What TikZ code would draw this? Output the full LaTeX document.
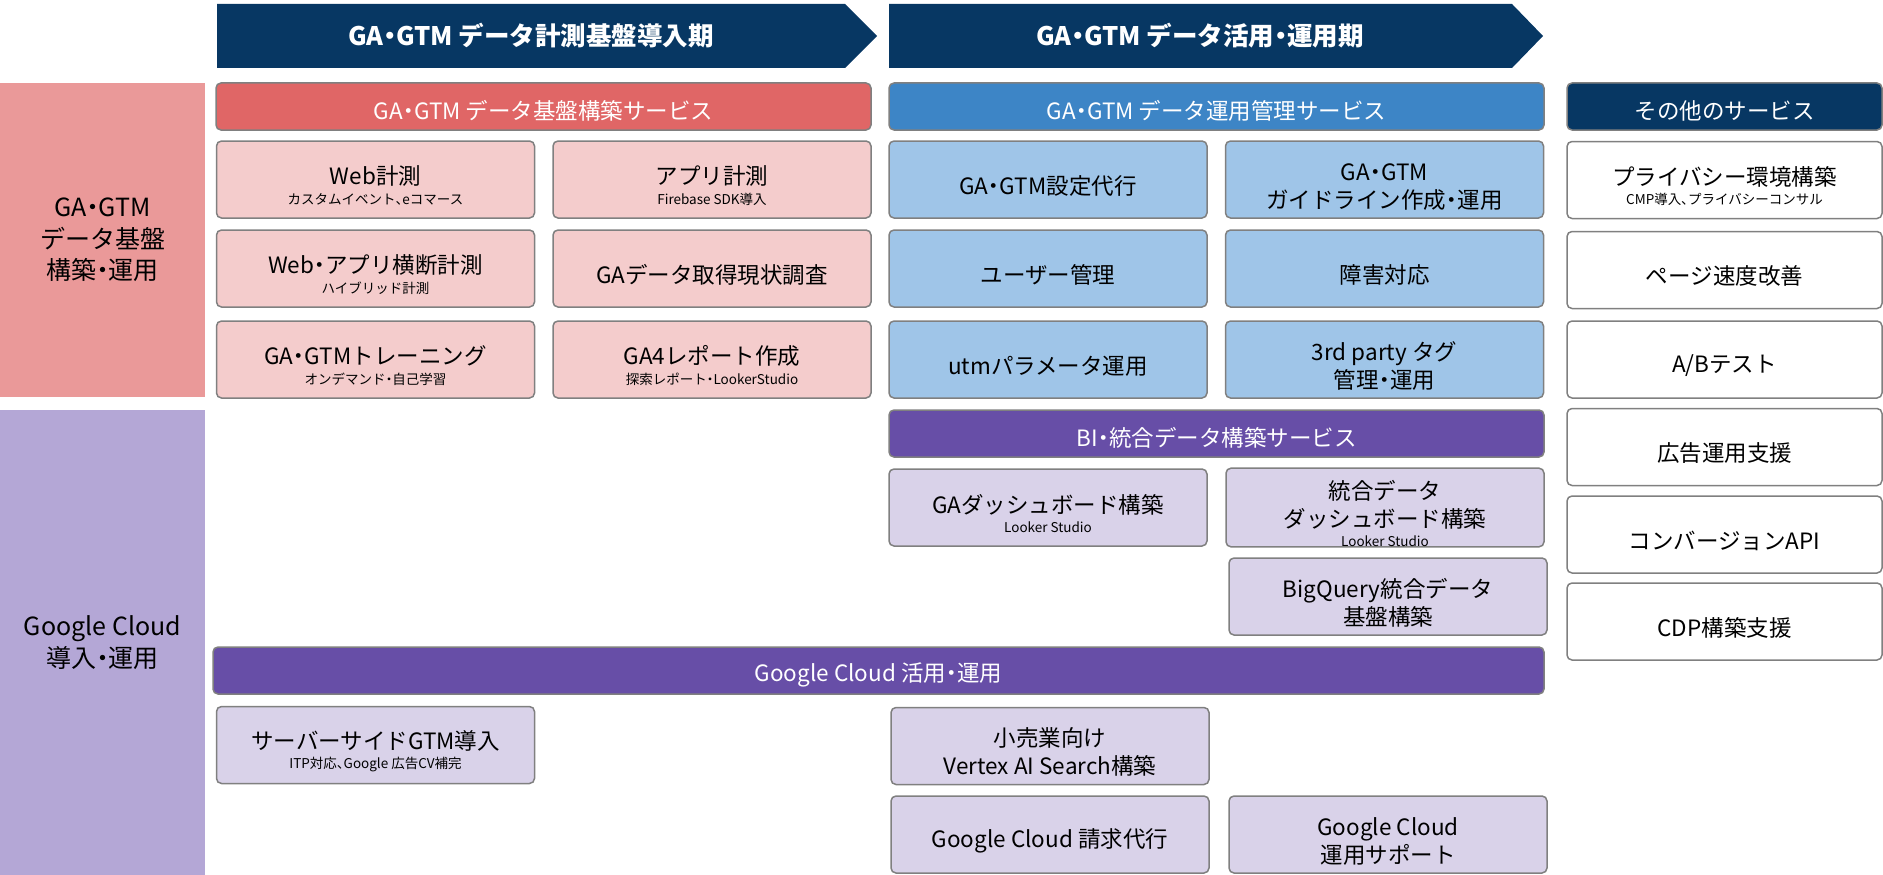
\documentclass[tikz,border=0pt]{standalone}
\usepackage{fontspec}
\setmainfont{Noto Sans CJK JP}
\newfontfamily\paltfont{Noto Sans CJK JP}[RawFeature=+palt]
\definecolor{navy}{HTML}{073763}
\definecolor{pinkband}{HTML}{EA9999}
\definecolor{redhdr}{HTML}{E06666}
\definecolor{pinkcell}{HTML}{F4CCCC}
\definecolor{bluehdr}{HTML}{3D85C6}
\definecolor{bluecell}{HTML}{9FC5E8}
\definecolor{purplehdr}{HTML}{674EA7}
\definecolor{purpleband}{HTML}{B4A7D6}
\definecolor{purplecell}{HTML}{D9D2E9}
\definecolor{edgegray}{HTML}{808080}
\newcommand{\subtxt}[1]{{\fontsize{13.5}{16}\selectfont #1}}
% narrow middle dot and comma, as in the slide
\catcode`\・=\active
\def・{{\paltfont\char"30FB}}
\catcode`\、=\active
\def、{{\paltfont\char"3001}}

\begin{document}
\begin{tikzpicture}[x=1pt, y=-1pt,
    phase/.style={text=white, font=\fontsize{25.5}{30}\selectfont\bfseries},
    band/.style={minimum width=205, inner sep=0, align=center,
        font=\fontsize{25}{31.5}\selectfont},
    hdr/.style={draw=edgegray, line width=1.5pt, rounded corners=5pt,
        minimum height=47, inner sep=0, text=white,
        font=\fontsize{22.5}{27}\selectfont,
        execute at begin node={\vrule width 0pt height 28pt}},
    cell/.style={draw=edgegray, line width=1.5pt, rounded corners=5pt,
        minimum width=318, minimum height=77, inner sep=0,
        text width=310, align=flush center,
        font=\fontsize{22.5}{28}\selectfont,
        execute at begin node={\vrule width 0pt height 31pt}},
    pinkbox/.style={cell, fill=pinkcell},
    bluebox/.style={cell, fill=bluecell},
    whitebox/.style={cell, fill=white, minimum width=315},
    lavbox/.style={cell, fill=purplecell}]
    \useasboundingbox (0,0) rectangle (1883,875);

    % Phases
    \fill[navy] (217,4) -- (845,4) -- (877,36) -- (845,68) -- (217,68) -- cycle;
    \node[phase] (phaseone) at (531,36) {GA・GTM データ計測基盤導入期};
    \fill[navy] (889,4) -- (1512,4) -- (1543,36) -- (1512,68) -- (889,68) -- cycle;
    \node[phase] (phasetwo) at (1200,36) {GA・GTM データ活用・運用期};

    % Left bands
    \node[band, fill=pinkband, minimum height=314] (gaband) at (102.5,240) {GA・GTM\\データ基盤\\構築・運用};
    \node[band, fill=purpleband, minimum height=465] (gcband) at (102.5,642.5) {Google Cloud\\導入・運用};

    % Service headers
    \node[hdr, fill=redhdr, minimum width=655] (buildhdr) at (543.5,106.5) {GA・GTM データ基盤構築サービス};
    \node[hdr, fill=bluehdr, minimum width=655] (opshdr) at (1216.5,106.5) {GA・GTM データ運用管理サービス};
    \node[hdr, fill=navy, minimum width=315] (otherhdr) at (1724.5,106.5) {その他のサービス};
    \node[hdr, fill=purplehdr, minimum width=655] (bihdr) at (1216.5,433.5) {BI・統合データ構築サービス};
    \node[hdr, fill=purplehdr, minimum width=1331] (gchdr) at (878.5,670.5) {Google Cloud 活用・運用};

    % GA/GTM build services
    \node[pinkbox] (webm) at (375.5,179.5) {Web計測\\[-8.5pt]\subtxt{カスタムイベント、eコマース}};
    \node[pinkbox] (appm) at (712,179.5) {アプリ計測\\[-8.5pt]\subtxt{Firebase SDK導入}};
    \node[pinkbox] (crossm) at (375.5,268.5) {Web・アプリ横断計測\\[-8.5pt]\subtxt{ハイブリッド計測}};
    \node[pinkbox] (survey) at (712,268.5) {GAデータ取得現状調査};
    \node[pinkbox] (training) at (375.5,359.5) {GA・GTMトレーニング\\[-8.5pt]\subtxt{オンデマンド・自己学習}};
    \node[pinkbox] (report) at (712,359.5) {GA4レポート作成\\[-8.5pt]\subtxt{探索レポート・LookerStudio}};

    % GA/GTM operation services
    \node[bluebox] (setup) at (1048,179.5) {GA・GTM設定代行};
    \node[bluebox] (guide) at (1384.5,179.5) {GA・GTM\\ガイドライン作成・運用};
    \node[bluebox] (users) at (1048,268.5) {ユーザー管理};
    \node[bluebox] (incident) at (1384.5,268.5) {障害対応};
    \node[bluebox] (utm) at (1048,359.5) {utmパラメータ運用};
    \node[bluebox] (tags) at (1384.5,359.5) {3rd party タグ\\管理・運用};

    % Other services
    \node[whitebox] (privacy) at (1724.5,180) {プライバシー環境構築\\[-8.5pt]\subtxt{CMP導入、プライバシーコンサル}};
    \node[whitebox] (speed) at (1724.5,270) {ページ速度改善};
    \node[whitebox] (abtest) at (1724.5,359.5) {A/Bテスト};
    \node[whitebox] (ads) at (1724.5,447) {広告運用支援};
    \node[whitebox] (capi) at (1724.5,534.5) {コンバージョンAPI};
    \node[whitebox] (cdp) at (1724.5,621.5) {CDP構築支援};

    % BI services
    \node[lavbox] (gadash) at (1048,507.5) {GAダッシュボード構築\\[-8.5pt]\subtxt{Looker Studio}};
    \node[lavbox] (intdash) at (1385,507.5) {統合データ\\ダッシュボード構築\\[-8.5pt]\subtxt{Looker Studio}};
    \node[lavbox] (bq) at (1388,596.5) {BigQuery統合データ\\基盤構築};

    % Google Cloud services
    \node[lavbox] (sgtm) at (375.5,745) {サーバーサイドGTM導入\\[-8.5pt]\subtxt{ITP対応、Google 広告CV補完}};
    \node[lavbox] (vertex) at (1050,746) {小売業向け\\Vertex AI Search構築};
    \node[lavbox] (billing) at (1050,834.5) {Google Cloud 請求代行};
    \node[lavbox] (gcsupport) at (1388,834.5) {Google Cloud\\運用サポート};
\end{tikzpicture}
\end{document}
